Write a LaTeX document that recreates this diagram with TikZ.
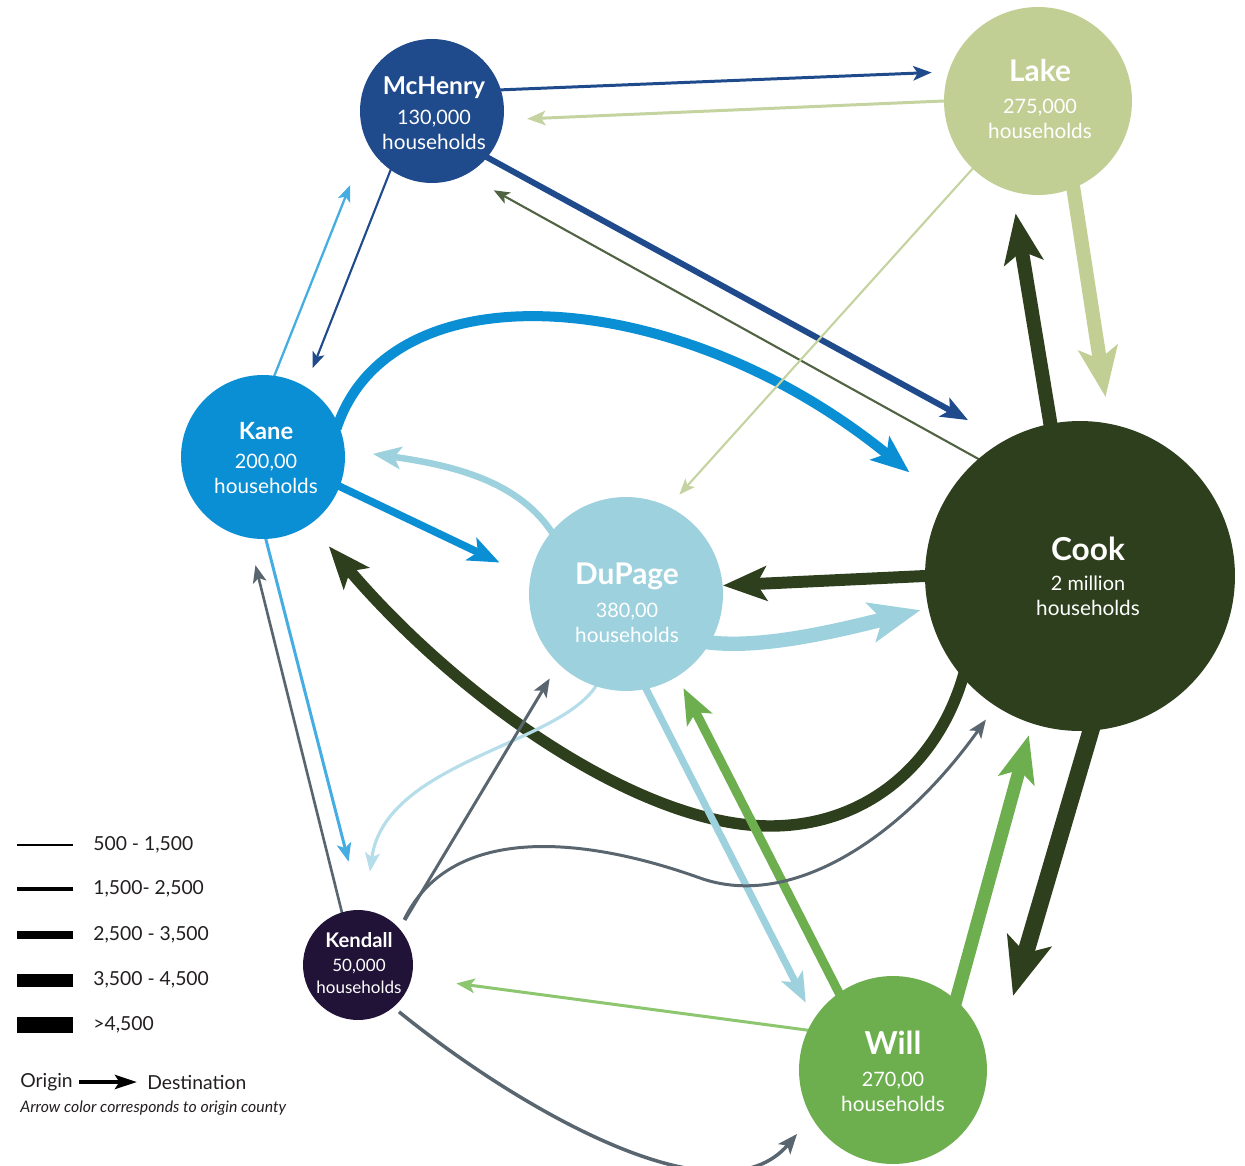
\documentclass[tikz,border=0pt]{standalone}
\usepackage{fontspec}
\setmainfont{Lato}
\usetikzlibrary{arrows.meta,backgrounds}
\definecolor{cMcH}{HTML}{1F4A8C}
\definecolor{cLake}{HTML}{C2CF94}
\definecolor{cLakeT}{HTML}{C4D3A0}
\definecolor{cKane}{HTML}{0A8ED4}
\definecolor{cKaneT}{HTML}{45ADE2}
\definecolor{cDuP}{HTML}{9DD1DD}
\definecolor{cDuPT}{HTML}{B5DEEA}
\definecolor{cCook}{HTML}{2D3F1C}
\definecolor{cCookT}{HTML}{506343}
\definecolor{cKend}{HTML}{211237}
\definecolor{cKendA}{HTML}{59666F}
\definecolor{cWill}{HTML}{6DAE4E}
\definecolor{cWillT}{HTML}{8CC66E}
\definecolor{cText}{HTML}{231F20}
\newcommand{\cname}[2]{{\fontsize{#1}{#1}\selectfont\bfseries #2}}
\newcommand{\chh}{{\fontsize{11.8}{14.2}\selectfont households}}
\begin{document}
\begin{tikzpicture}[x=0.02cm,y=-0.02cm,
  county/.style={circle,inner sep=0pt},
  ctext/.style={inner sep=0pt,text=white,align=center,font=\fontsize{11.3}{14.2}\selectfont},
  flow/.style={-{Stealth[length=5.7pt 2.8,width=4.5pt 2.2,inset=1.5pt 0.6]},line width=#1,shorten <=-3pt},
  legtext/.style={anchor=west,inner sep=0pt,font=\fontsize{11}{13}\selectfont,text=cText},
  legline/.style={draw=black,line width=#1}
]
\useasboundingbox (0,0) rectangle (1245,1166);

% counties
\node[county,fill=cMcH,minimum size=2.88cm] (mch) at (432,111) {};
\node[county,fill=cLake,minimum size=3.76cm] (lake) at (1038,101) {};
\node[county,fill=cKane,minimum size=3.28cm] (kane) at (263,457) {};
\node[county,fill=cDuP,minimum size=3.88cm] (dup) at (626,594) {};
\node[county,fill=cCook,minimum size=6.2cm] (cook) at (1080,576) {};
\node[county,fill=cKend,minimum size=2.2cm] (kendall) at (358,965) {};
\node[county,fill=cWill,minimum size=3.76cm] (will) at (893,1070) {};

% county labels
\node[ctext] (mchtxt) at (434,113) {\cname{14}{McHenry}\\[2.6pt]130,000\\\chh};
\node[ctext] (laketxt) at (1040,99) {\cname{17}{Lake}\\[4.3pt]275,000\\\chh};
\node[ctext] (kanetxt) at (266,458) {\cname{13.5}{Kane}\\[2.6pt]200,00\\\chh};
\node[ctext] (duptxt) at (627,603) {\cname{17}{DuPage}\\[4.3pt]380,00\\\chh};
\node[ctext] (cooktxt) at (1088,576) {\cname{18}{Cook}\\[3pt]2 million\\\chh};
\node[ctext,font=\fontsize{9.7}{12.5}\selectfont] (kendtxt) at (359,963) {\cname{11.5}{Kendall}\\[0.8pt]50,000\\households};
\node[ctext] (willtxt) at (893,1071) {\cname{18}{Will}\\[4pt]270,00\\\chh};

\begin{pgfonlayer}{background}
\fill[white] (0,0) rectangle (1245,1166);
\draw[flow=1.7pt,cMcH,shorten >=9.5pt] (mch.17) -- (lake.162);
\draw[flow=1.7pt,cLakeT,shorten >=13.3pt] (lake.180) -- (mch.-7);
\draw[flow=3.4pt,cMcH,shorten >=23.8pt] (mch.-40) -- (cook.119);
\draw[flow=1.2pt,cCookT,shorten >=18.1pt] (cook.131) -- (mch.-62);
\draw[flow=1.2pt,cMcH,shorten >=11.3pt] (mch.-125) -- (kane.59);
\draw[flow=1.3pt,cKaneT,shorten >=26pt] (kane.82) -- (mch.-154);
\draw[flow=5.7pt,cKane,shorten >=25.5pt] (kane.24) .. controls (390,265) and (680,285) .. (cook.151);
\draw[flow=4.3pt,cKane,shorten >=19.3pt] (kane.-21) -- (dup.170);
\draw[flow=3.7pt,cDuP,shorten >=16pt] (dup.140) .. controls (520,480) and (450,465) .. (kane.5);
\draw[flow=1.2pt,cLakeT,shorten >=9.1pt] (lake.-134) -- (dup.64);
\draw[flow=8pt,cLake,shorten >=15.3pt] (lake.-68) -- (cook.79);
\draw[flow=8pt,cCook,shorten >=12.5pt] (cook.101) -- (lake.-106);
\draw[flow=6.8pt,cCook] (cook.180) -- (dup.5);
\draw[flow=8.2pt,cDuP,shorten >=4.5pt] (dup.-30) .. controls (760,650) and (840,630) .. (cook.192);
\draw[flow=6.5pt,cCook,shorten >=16.4pt] (cook.-139) .. controls (940,760) and (870,826) .. (770,826) .. controls (640,826) and (460,700) .. (kane.-55);
\draw[flow=9.6pt,cCook,shorten >=58.4pt] (cook.-86) -- (will.-15);
\draw[flow=7.4pt,cWill,shorten >=6.8pt] (will.48) -- (cook.-108);
\draw[flow=5.1pt,cWill,shorten >=7.4pt] (will.125) -- (dup.-58);
\draw[flow=4pt,cDuP,shorten >=10.2pt] (dup.-78) -- (will.147);
\draw[flow=1.7pt,cKaneT,shorten >=28.3pt] (kane.-88) -- (kendall.87);
\draw[flow=1.5pt,cKendA,shorten >=15.9pt] (kendall.107) -- (kane.-100);
\draw[flow=1.8pt,cDuPT,shorten >=22.1pt] (dup.-108) .. controls (565,745) and (385,760) .. (kendall.83);
\draw[flow=1.7pt,cKendA,shorten <=5.7pt,shorten >=9.6pt] (kendall.41) -- (dup.-134);
\draw[flow=1.7pt,cKendA,shorten <=5.7pt,shorten >=9.3pt] (kendall.41) .. controls (450,825) and (580,835) .. (700,878) .. controls (790,910) and (900,840) .. (cook.-123);
\draw[flow=2pt,cKendA,shorten <=4pt,shorten >=12.5pt] (kendall.-50) .. controls (520,1110) and (720,1225) .. (will.210);
\draw[flow=1.7pt,cWillT,shorten >=25.5pt] (will.155) -- (kendall.-13);
\end{pgfonlayer}

% legend
\draw[legline=1.4pt] (17,845) -- (73,845);
\draw[legline=2.8pt] (17,889) -- (73,889);
\draw[legline=5.1pt] (17,935) -- (73,935);
\draw[legline=7.4pt] (17,980) -- (73,980);
\draw[legline=9pt] (17,1025) -- (73,1025);
\node[legtext] (leg1) at (93,845) {500 - 1,500};
\node[legtext] (leg2) at (93,889) {1,500- 2,500};
\node[legtext] (leg3) at (93,935) {2,500 - 3,500};
\node[legtext] (leg4) at (93,980) {3,500 - 4,500};
\node[legtext] (leg5) at (93,1025) {>4,500};
\node[legtext] (orig) at (20,1082) {Origin};
\node[legtext] (dest) at (147,1082) {Destination};
\draw[-{Stealth[length=12.5pt,width=8pt,inset=2.5pt]},line width=2.4pt,shorten <=3.4pt,shorten >=5.7pt] (orig.east) -- (dest.west);
\node[legtext,font=\fontsize{9}{11}\selectfont\itshape] (note) at (20,1108) {Arrow color corresponds to origin county};
\end{tikzpicture}
\end{document}
